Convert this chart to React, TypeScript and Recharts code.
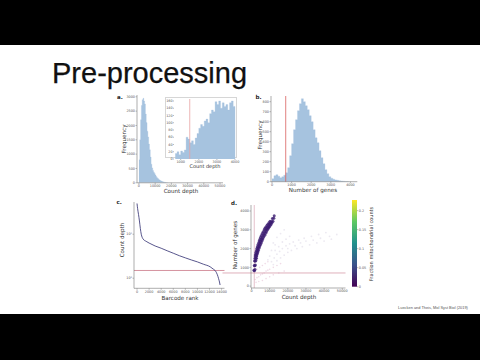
import {
  Area,
  AreaChart,
  Bar,
  BarChart,
  Line,
  LineChart,
  ReferenceLine,
  Scatter,
  ScatterChart,
  XAxis,
  YAxis,
} from "recharts";

// a. count depth histogram (bin start, counts), bins of 500
const depthBins = [
  0, 500, 1000, 1500, 2000, 2500, 3000, 3500, 4000, 4500, 5000, 5500, 6000, 6500, 7000, 7500, 8000, 8500,
  9000, 9500, 10000, 10500, 11000, 11500, 12000, 12500, 13000, 13500, 14000, 14500, 15000, 15500, 16000,
  16500, 17000, 17500,
];
const depthCounts = [
  800, 1500, 2200, 2700, 2900, 2950, 2850, 2750, 2400, 2100, 1800, 1600, 1350, 1150, 900, 650, 520, 430,
  370, 320, 270, 220, 180, 150, 120, 100, 80, 65, 50, 40, 30, 22, 15, 10, 6, 3,
];
const depthTicks = [0, 10000, 20000, 30000, 40000, 50000];
const freqTicksA = [0, 500, 1000, 1500, 2000, 2500, 3000];

// a. inset, zoom on low count depths, bins of 100
const insetBins = [
  700, 800, 900, 1000, 1100, 1200, 1300, 1400, 1500, 1600, 1700, 1800, 1900, 2000, 2100, 2200, 2300,
  2400, 2500, 2600, 2700, 2800, 2900, 3000, 3100, 3200, 3300, 3400, 3500, 3600, 3700, 3800, 3900,
];
const insetCounts = [
  15, 20, 12, 22, 18, 25, 60, 55, 45, 50, 40, 58, 70, 85, 95, 90, 105, 110, 100, 125, 135, 130, 158,
  150, 160, 140, 155, 145, 150, 135, 155, 160, 145,
];
const insetTicksX = [1000, 2000, 3000, 4000];
const insetTicksY = [0, 20, 40, 60, 80, 100, 120, 140, 160];

// b. number of genes histogram, bins of 100
const geneBins = [
  0, 100, 200, 300, 400, 500, 600, 700, 800, 900, 1000, 1100, 1200, 1300, 1400, 1500, 1600, 1700, 1800,
  1900, 2000, 2100, 2200, 2300, 2400, 2500, 2600, 2700, 2800, 2900, 3000, 3100, 3200, 3300, 3400, 3500,
  3600, 3700, 3800,
];
const geneCounts = [
  30, 60, 70, 55, 40, 50, 65, 90, 140, 260, 380, 520, 620, 710, 780, 830, 800, 760, 720, 660, 600, 520,
  440, 390, 310, 240, 180, 120, 80, 50, 35, 25, 18, 14, 10, 7, 5, 3, 2,
];
const geneTicks = [0, 1000, 2000, 3000, 4000];
const freqTicksB = [0, 100, 200, 300, 400, 500, 600, 700, 800];

// c. barcode rank plot
const rankValues = [
  0, 100, 250, 400, 550, 700, 850, 1000, 1500, 2000, 3000, 4000, 5000, 6000, 7000, 8000, 9000, 10000,
  11000, 12100, 12600, 13000, 13300, 13500, 13650, 13750,
];
const rankDepths = [
  50000, 38000, 28000, 20000, 13500, 10000, 8500, 7800, 6900, 6300, 5400, 4800, 4200, 3700, 3250, 2900,
  2600, 2350, 2080, 1820, 1620, 1450, 1200, 980, 820, 700,
];
const rankTicks = [0, 2000, 4000, 6000, 8000, 10000, 12000, 14000];

// d. genes vs count depth
const denseCells: [number, number][] = [
  [1300, 850], [1600, 820], [1900, 880],
  [1500, 1100], [1800, 1080], [2100, 1120],
  [1700, 1350], [2000, 1330], [2400, 1370],
  [1900, 1480], [2300, 1470], [2700, 1490],
  [2000, 1600], [2500, 1580], [2900, 1620],
  [2200, 1700], [2700, 1690], [3200, 1720],
  [2400, 1800], [3000, 1780], [3500, 1820],
  [2700, 1900], [3300, 1890], [3800, 1910],
  [2900, 2000], [3500, 1990], [4100, 2020],
  [3200, 2100], [3900, 2090], [4500, 2110],
  [3500, 2200], [4300, 2180], [5000, 2220],
  [3900, 2300], [4600, 2290], [5400, 2310],
  [4200, 2400], [5000, 2390], [5800, 2420],
  [4600, 2500], [5400, 2490], [6200, 2510],
  [5000, 2600], [5900, 2580], [6700, 2620],
  [5400, 2700], [6400, 2690], [7300, 2710],
  [5900, 2800], [6900, 2790], [7800, 2810],
  [6400, 2900], [7400, 2890], [8300, 2910],
  [7000, 3000], [8000, 2990], [8900, 3010],
  [7400, 3080], [8500, 3070], [9400, 3090],
  [7900, 3150], [9000, 3140], [9900, 3160],
  [8500, 3230], [9500, 3220], [10400, 3240],
  [9000, 3300], [10000, 3290], [10900, 3310],
  [9600, 3380], [10500, 3370], [11300, 3390],
  [10200, 3450], [11000, 3440], [11800, 3460],
  [11500, 3600], [12300, 3620],
  [12500, 3750],
];
const sparseCells: [number, number][] = [
  [11000, 1300], [12500, 1500], [14000, 1700], [15500, 1850], [17000, 2000], [19000, 2150], [21000, 2250],
  [23000, 2350], [26000, 2450], [29000, 2550], [33000, 2650], [37000, 2750], [41000, 2850],
  [12000, 1150], [14000, 1350], [16000, 1500], [18000, 1650], [20000, 1800], [22000, 1900], [25000, 2000],
  [28000, 2100], [32000, 2200], [36000, 2300], [40000, 2400], [44000, 2500],
  [13000, 1900], [15000, 2100], [17000, 2350], [19000, 2500], [21000, 2650], [16000, 2800], [14000, 2600],
  [18000, 3000], [12000, 2300], [20000, 2000], [24000, 2150], [27000, 2300], [30000, 2400], [34000, 2450],
  [38000, 2550], [43000, 2650], [47000, 2750], [10000, 1600], [11000, 1900], [13000, 2200], [9000, 1400],
];
const lowCells: [number, number][] = [
  [2000, 350], [3000, 450], [4000, 500], [5000, 600], [6000, 650], [7000, 700], [8000, 800], [9000, 850],
  [10000, 900], [12000, 1000], [14000, 1100], [16000, 1200],
  [2500, 200], [4000, 250], [6000, 300], [8000, 400], [10000, 500], [12000, 600], [15000, 700], [18000, 800],
  [3000, 900], [4500, 1000], [6000, 1100], [7500, 1200], [9000, 1300],
];
const scatterTicksX = [0, 10000, 20000, 30000, 40000, 50000];
const scatterTicksY = [0, 1000, 2000, 3000, 4000];

// colorbar
const mitoTop = [0.228];
const mitoTicks = [0, 0.05, 0.1, 0.15, 0.2];
const viridis = ["#fde725", "#5ec962", "#21918c", "#3b528b", "#440154"];

const minCount = 1500;
const minGenes = 700;

const histBlue = "#a6c3df";
const tick = { fontSize: 3.4, fill: "#555", fontFamily: "DejaVu Sans" };
const axisLine = { stroke: "#777", strokeWidth: 0.6 };
const tickLine = { stroke: "#777", strokeWidth: 0.5 };
const none = { top: 0, right: 0, bottom: 0, left: 0 };

function steps(bins: number[], counts: number[], width: number) {
  const rows = bins.map((x, i) => ({ x, y: counts[i] }));
  rows.push({ x: bins[bins.length - 1] + width, y: 0 });
  return rows;
}

const depthData = steps(depthBins, depthCounts, 500);
const insetData = steps(insetBins, insetCounts, 100);
const geneData = steps(geneBins, geneCounts, 100);
const rankData = rankValues.map((rank, i) => ({ rank, depth: rankDepths[i] }));
const toPts = (cells: [number, number][]) => cells.map(([x, y]) => ({ x, y }));

const dot = (fill: string, r: number, op: number) => (p: any) =>
  <circle cx={p.cx} cy={p.cy} r={r} fill={fill} fillOpacity={op} />;

const at = (left: number, top: number): React.CSSProperties => ({ position: "absolute", left, top });

export default function App() {
  const sup = (v: number) => (v === 1000 ? "10³" : "10⁴");
  return (
    <div style={{ position: "absolute", left: 0, top: 0, width: 480, height: 360, background: "#fff", overflow: "hidden" }}>
      <style>{`.recharts-surface{overflow:visible}`}</style>
      <div style={{ ...at(0, 0), width: 480, height: 45, background: "#000" }} />
      <div style={{ ...at(0, 314), width: 480, height: 46, background: "#000" }} />

      {/* a. main histogram */}
      <div style={at(121, 94.7)}>
        <AreaChart width={102} height={95.8} data={depthData} margin={none}>
          <XAxis type="number" dataKey="x" domain={[-1200, 51850]} ticks={depthTicks} allowDataOverflow interval={0}
            tick={tick} tickSize={1.5} tickMargin={0.5} tickLine={tickLine} axisLine={axisLine} height={8} />
          <YAxis type="number" domain={[0, 3063]} ticks={freqTicksA} allowDataOverflow interval={0}
            tick={tick} tickSize={1.5} tickMargin={0.5} tickLine={tickLine} axisLine={axisLine} width={16} />
          <Area type="stepAfter" dataKey="y" stroke={histBlue} strokeWidth={0.3} fill={histBlue} fillOpacity={1} isAnimationActive={false} />
        </AreaChart>
      </div>

      {/* a. inset */}
      <div style={{ ...at(165, 96.7), width: 72, height: 61.6, background: "#fff", border: "0.6px solid #d6d6d6", boxSizing: "border-box" }} />
      <div style={at(165, 99)}>
        <AreaChart width={71.5} height={66} data={insetData} margin={none}>
          <XAxis type="number" dataKey="x" domain={[630, 4083]} ticks={insetTicksX} allowDataOverflow interval={0}
            tick={tick} tickSize={1} tickMargin={0.3} tickLine={tickLine} axisLine={false} height={6} />
          <YAxis type="number" domain={[0, 165.5]} ticks={insetTicksY} allowDataOverflow interval={0}
            tick={tick} tickSize={1} tickMargin={0.3} tickLine={tickLine} axisLine={false} width={9} />
          <Area type="stepAfter" dataKey="y" stroke={histBlue} strokeWidth={0.3} fill={histBlue} fillOpacity={1} isAnimationActive={false} />
          <ReferenceLine x={minCount} stroke="#e9a3a3" strokeWidth={0.8} />
        </AreaChart>
      </div>

      {/* b. genes histogram */}
      <div style={at(256.7, 96)}>
        <AreaChart width={100.3} height={93.7} data={geneData} margin={none}>
          <XAxis type="number" dataKey="x" domain={[-50, 4350]} ticks={geneTicks} allowDataOverflow interval={0}
            tick={tick} tickSize={1.5} tickMargin={0.5} tickLine={tickLine} axisLine={axisLine} height={8} />
          <YAxis type="number" domain={[0, 857]} ticks={freqTicksB} allowDataOverflow interval={0}
            tick={tick} tickSize={1.5} tickMargin={0.5} tickLine={tickLine} axisLine={axisLine} width={14} />
          <Area type="stepAfter" dataKey="y" stroke={histBlue} strokeWidth={0.3} fill={histBlue} fillOpacity={1} isAnimationActive={false} />
          <ReferenceLine x={minGenes} stroke="#d9615f" strokeWidth={0.8} />
        </AreaChart>
      </div>

      {/* c. barcode rank */}
      <div style={at(119.5, 201.7)}>
        <LineChart width={104.5} height={94.3} data={rankData} margin={none}>
          <XAxis type="number" dataKey="rank" domain={[-500, 14480]} ticks={rankTicks} allowDataOverflow interval={0}
            tick={tick} tickSize={1.5} tickMargin={0.5} tickLine={tickLine} axisLine={axisLine} height={8} />
          <YAxis type="number" scale="log" domain={[590, 54000]} ticks={[1000, 10000]} allowDataOverflow interval={0}
            tickFormatter={sup} tick={tick} tickSize={1.5} tickMargin={0.5} tickLine={tickLine} axisLine={axisLine} width={14} />
          <ReferenceLine y={minCount} stroke="#b84a5e" strokeWidth={0.6} />
          <Line type="monotone" dataKey="depth" stroke="#2d2b6e" strokeWidth={0.8} dot={false} isAnimationActive={false} />
        </LineChart>
      </div>

      {/* d. scatter */}
      <div style={at(220.5, 205)}>
        <ScatterChart width={124.5} height={91} margin={none}>
          <XAxis type="number" dataKey="x" domain={[-300, 51800]} ticks={scatterTicksX} allowDataOverflow interval={0}
            tick={tick} tickSize={1.5} tickMargin={0.5} tickLine={tickLine} axisLine={axisLine} height={8} />
          <YAxis type="number" dataKey="y" domain={[-100, 4320]} ticks={scatterTicksY} allowDataOverflow interval={0}
            tick={tick} tickSize={1.5} tickMargin={0.5} tickLine={tickLine} axisLine={axisLine} width={30} />
          <Scatter data={toPts(sparseCells)} shape={dot("#c9bfd6", 0.9, 0.35)} isAnimationActive={false} />
          <Scatter data={toPts(lowCells)} shape={dot("#d6a3c0", 0.8, 0.4)} isAnimationActive={false} />
          <Scatter data={toPts(denseCells)} shape={dot("#3b1c70", 1.5, 0.8)} isAnimationActive={false} />
          <ReferenceLine x={minCount} stroke="#d495a8" strokeWidth={0.6} />
          <ReferenceLine segment={[{ x: -16000, y: minGenes }, { x: 51800, y: minGenes }]} ifOverflow="visible"
            stroke="#c8788c" strokeWidth={0.6} />
        </ScatterChart>
      </div>

      {/* colorbar */}
      <div style={at(351.7, 200)}>
        <BarChart width={17} height={86.7} data={mitoTop.map((v) => ({ k: "mito", v }))} margin={none} barCategoryGap={0}>
          <defs>
            <linearGradient id="viridis" x1="0" y1="0" x2="0" y2="1">
              {viridis.map((c, i) => (
                <stop key={c} offset={i / (viridis.length - 1)} stopColor={c} />
              ))}
            </linearGradient>
          </defs>
          <XAxis dataKey="k" hide />
          <YAxis orientation="right" type="number" domain={[0, 0.228]} ticks={mitoTicks} interval={0}
            tickFormatter={(v: number) => String(v)} tick={tick} tickSize={1.2} tickMargin={0.5} tickLine={tickLine} axisLine={false} width={12} />
          <Bar dataKey="v" fill="url(#viridis)" isAnimationActive={false} />
        </BarChart>
      </div>

      <svg width={480} height={360} style={{ position: "absolute", left: 0, top: 0, pointerEvents: "none" }}>
        <text x={52} y={83.3} fontSize={29} fontFamily="Liberation Sans" fill="#111" stroke="#111" strokeWidth={0.25}>
          Pre-processing
        </text>
        <g fontFamily="DejaVu Sans" fontWeight="bold" fontSize={5.5} fill="#222">
          <text x={117} y={99}>a.</text>
          <text x={255.5} y={99}>b.</text>
          <text x={116.5} y={204}>c.</text>
          <text x={231} y={205}>d.</text>
        </g>
        <g fontFamily="DejaVu Sans" fontSize={5.6} fill="#333" textAnchor="middle">
          <text x={181} y={193}>Count depth</text>
          <text x={205} y={168} fontSize={5}>Count depth</text>
          <text x={313} y={192}>Number of genes</text>
          <text x={180} y={299.5}>Barcode rank</text>
          <text x={299} y={298.5}>Count depth</text>
          <text transform="translate(126,139) rotate(-90)">Frequency</text>
          <text transform="translate(261.5,135) rotate(-90)">Frequency</text>
          <text transform="translate(124,240) rotate(-90)">Count depth</text>
          <text transform="translate(237,245) rotate(-90)">Number of genes</text>
          <text transform="translate(373,244) rotate(-90)" fontSize={5}>Fraction mitochondrial counts</text>
        </g>
        <text x={433} y={309} fontSize={3.9} fontFamily="Liberation Sans" fill="#555" textAnchor="middle">
          Luecken and Theis, Mol Syst Biol (2019)
        </text>
      </svg>
    </div>
  );
}
